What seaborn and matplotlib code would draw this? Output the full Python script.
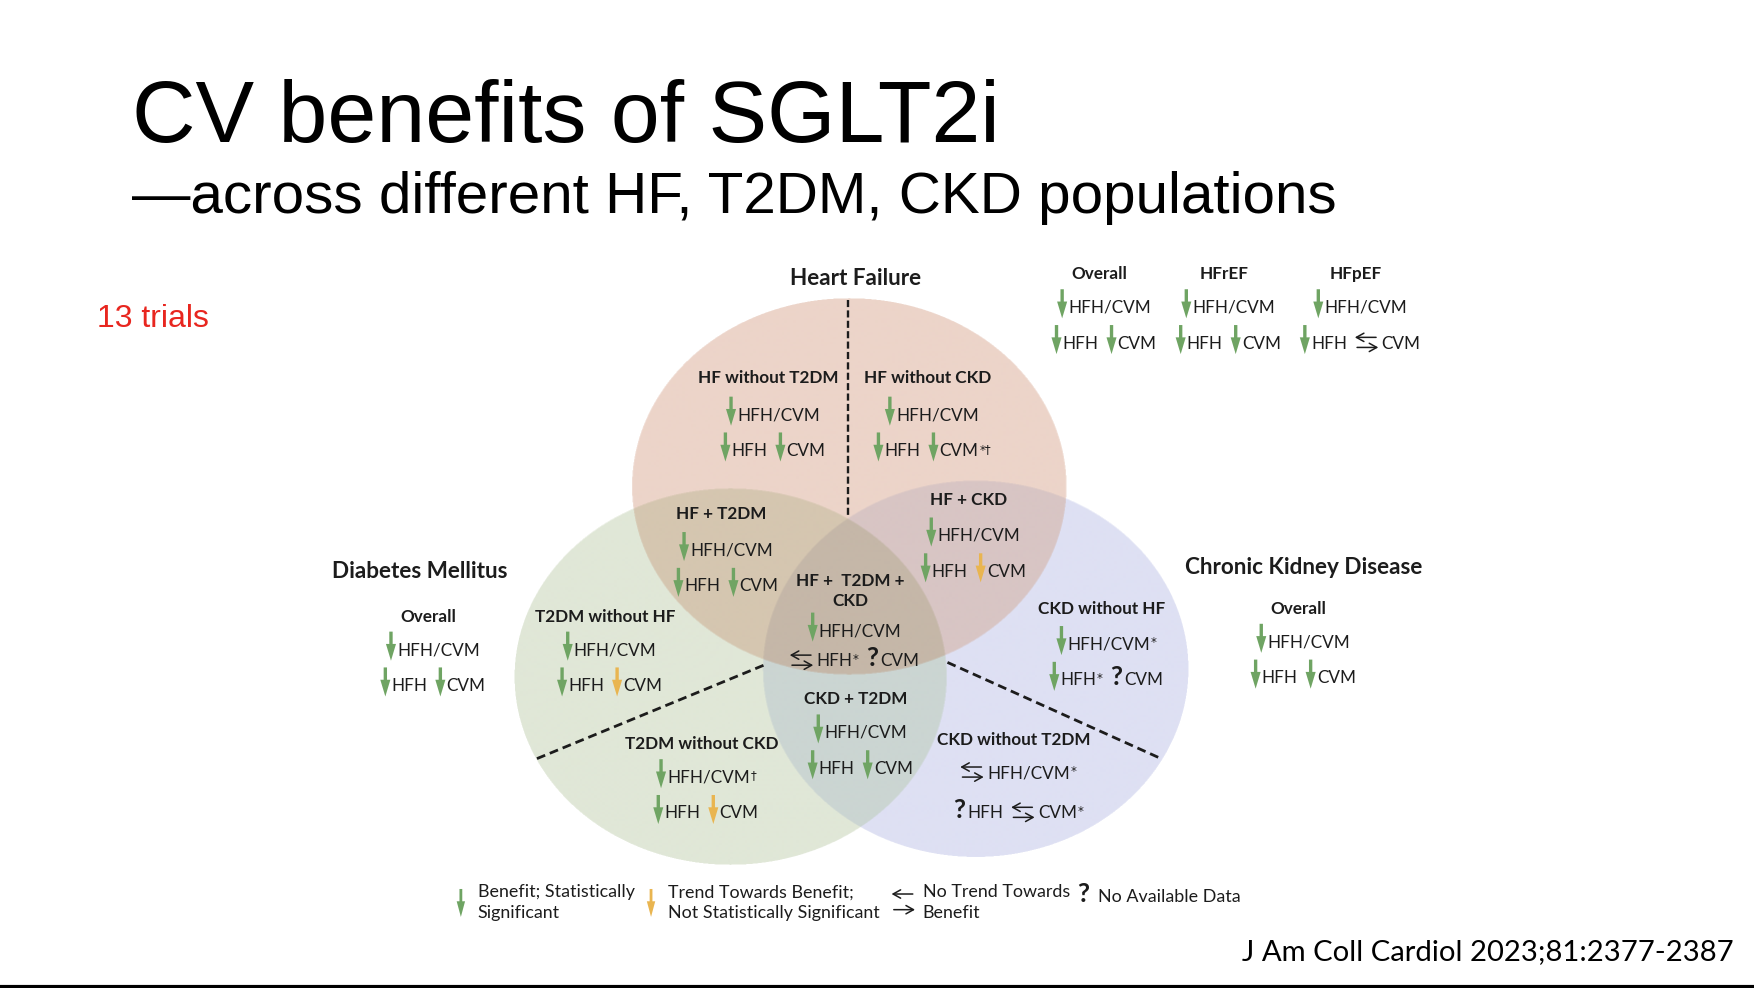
import numpy as np
import seaborn as sns
import matplotlib
matplotlib.use("Agg")
import matplotlib.pyplot as plt
from matplotlib.patches import FancyArrow

# ---------------- data ----------------
title = "CV benefits of SGLT2i"
subtitle = "\u2014across different HF, T2DM, CKD populations"
note = "13 trials"
source = "J Am Coll Cardiol 2023;81:2377-2387"

circle_names = ["Heart Failure", "Diabetes Mellitus", "Chronic Kidney Disease"]

groups = ["HF without T2DM", "HF without CKD", "HF + T2DM", "HF + CKD",
          "HF +  T2DM +\nCKD", "T2DM without HF", "CKD without HF", "CKD + T2DM",
          "T2DM without CKD", "CKD without T2DM",
          "Overall", "Overall", "Overall", "HFrEF", "HFpEF"]

# G = benefit, statistically significant   Y = trend towards benefit
# N = no trend towards benefit             Q = no available data
hfh_cvm      = ["G", "G", "G", "G", "G", "G", "G", "G", "G", "N", "G", "G", "G", "G", "G"]
hfh_cvm_note = ["", "", "", "", "", "", "*", "", "\u2020", "*", "", "", "", "", ""]
hfh          = ["G", "G", "G", "G", "N", "G", "G", "G", "G", "Q", "G", "G", "G", "G", "G"]
hfh_note     = ["", "", "", "", "*", "", "*", "", "", "", "", "", "", "", ""]
cvm          = ["G", "G", "G", "Y", "Q", "Y", "Q", "G", "Y", "N", "G", "G", "G", "G", "N"]
cvm_note     = ["", "*\u2020", "", "", "", "", "", "", "", "*", "", "", "", "", ""]

legend_codes = ["G", "Y", "N", "Q"]
legend_text = ["Benefit; Statistically\nSignificant",
               "Trend Towards Benefit;\nNot Statistically Significant",
               "No Trend Towards\nBenefit",
               "No Available Data"]

# ---------------- layout (reference units, y down) ----------------
W, H = 1568, 883
ellipses = [(759, 435, 194, 168),   # heart failure
            (653, 605, 193, 168),   # diabetes
            (872, 598, 190, 168)]   # CKD
region_rgb = [(255, 255, 255), (236, 212, 201), (224, 231, 215), (213, 198, 176),
              (222, 224, 243), (216, 197, 196), (203, 213, 210), (197, 183, 168)]
name_xy = [(765, 248), (375, 510), (1165, 506)]
group_xy = [(687, 337, 370, 402), (829, 337, 370, 402), (645, 458, 491, 523),
            (866, 446, 478, 510), (760, 518, 563, 590), (541, 550, 580, 612),
            (985, 543, 575, 607), (765, 624, 654, 686), (627, 664, 694, 726),
            (906, 660, 690, 726), (383, 550, 580, 612), (1161, 543, 573, 605),
            (983, 244, 274, 306), (1094, 244, 274, 306), (1212, 244, 274, 306)]
legend_sym_x = [408, 578, 797, 963]
legend_txt_x = [427, 597, 825, 982]

GREEN, GOLD, INK = "#6fa463", "#e9b550", "#1c1c1c"
FS, FS_SUP, FS_NAME = 12.3, 8.5, 16.2
BODY = ["Lato", "DejaVu Sans"]
SUP = ["DejaVu Sans"]

sns.set_theme(style="white")
plt.rcParams["font.family"] = BODY

fig = plt.figure(figsize=(17.54, 9.88), dpi=100)
ax = fig.add_axes([0, 0, 1, 1])
renderer = fig.canvas.get_renderer()
px = 1754 / W

# ---- venn background (multiplied overlaps) ----
x0, x1, y0, y1 = 440, 1090, 250, 790
ss = 2
nx = ss * int((x1 - x0) * px)
ny = ss * int((y1 - y0) * px)
X, Y = np.meshgrid(np.linspace(x0, x1, nx), np.linspace(y0, y1, ny))
code = np.zeros(X.shape, dtype=int)
for i, (cx, cy, rx, ry) in enumerate(ellipses):
    code += (((X - cx) / rx) ** 2 + ((Y - cy) / ry) ** 2 <= 1).astype(int) << i
img = (np.array(region_rgb) / 255.0)[code]
img = img.reshape(ny // ss, ss, nx // ss, ss, 3).mean(axis=(1, 3))
ax.imshow(img, extent=(x0, x1, y1, y0), origin="upper", interpolation="bilinear", zorder=0)
ax.set_xlim(0, W)
ax.set_ylim(H, 0)
ax.set_aspect("auto")
ax.axis("off")

# dashed dividers
ax.plot([758, 758], [268, 462], color=INK, lw=1.7, ls=(0, (3, 1.4)), zorder=1)
ax.plot([480, 684], [678, 594], color=INK, lw=2.0, ls=(0, (3.2, 1.8)), zorder=1)
ax.plot([847, 1038], [592, 678], color=INK, lw=2.0, ls=(0, (3.2, 1.8)), zorder=1)


def width_of(s, **kw):
    t = ax.text(0, 0, s, **kw)
    w = t.get_window_extent(renderer).width / px
    t.remove()
    return w


Q_W = width_of("?", fontsize=19, fontweight="bold") + 2


def symbol(code, x, base, legend=False):
    if code in "GY":
        col = GREEN if code == "G" else GOLD
        if legend:
            ax.add_patch(FancyArrow(x + 4, base - 21, 0, 25, width=2.5, head_width=7.5,
                                    head_length=14, length_includes_head=True, color=col, lw=0))
        else:
            ax.add_patch(FancyArrow(x + 4.5, base - 21, 0, 26, width=3.0, head_width=9,
                                    head_length=15, length_includes_head=True, color=col, lw=0))
        return 10
    if code == "N":
        yc = base - 5.5
        dy = 7 if legend else 4.5
        sty = "->,head_length=0.45,head_width=0.25"
        ax.annotate("", xy=(x, yc - dy), xytext=(x + 19, yc - dy),
                    arrowprops=dict(arrowstyle=sty, lw=1.1, color=INK, shrinkA=0, shrinkB=0))
        ax.annotate("", xy=(x + 21, yc + dy), xytext=(x + 2, yc + dy),
                    arrowprops=dict(arrowstyle=sty, lw=1.1, color=INK, shrinkA=0, shrinkB=0))
        return 24
    ax.text(x, base, "?", fontsize=19, fontweight="bold", color=INK, ha="left", va="baseline")
    return Q_W


def draw_row(cx, yc, items, gap=7):
    base = yc + 5.5
    widths = []
    for c, label, mark in items:
        sw = {"G": 10, "Y": 10, "N": 24}.get(c, Q_W)
        w = sw + width_of(label, fontsize=FS) + (width_of(mark, fontsize=FS_SUP, family=SUP) if mark else 0)
        widths.append(w)
    x = cx - (sum(widths) + gap * (len(items) - 1)) / 2
    for (c, label, mark), w in zip(items, widths):
        sw = symbol(c, x, base)
        ax.text(x + sw, base, label, fontsize=FS, color=INK, ha="left", va="baseline")
        if mark:
            lw_ = width_of(label, fontsize=FS)
            ax.text(x + sw + lw_ + 0.5, base - 3, mark, fontsize=FS_SUP, family=SUP,
                    color=INK, ha="left", va="baseline")
        x += w + gap


for i, name in enumerate(groups):
    cx, ty, r1, r2 = group_xy[i]
    for j, line in enumerate(name.split("\n")):
        ax.text(cx, ty + 18 * j + 5.5, line, fontsize=FS, fontweight="bold", color=INK,
                ha="center", va="baseline")
    draw_row(cx + 4, r1, [(hfh_cvm[i], "HFH/CVM", hfh_cvm_note[i])])
    draw_row(cx + 4, r2, [(hfh[i], "HFH", hfh_note[i]), (cvm[i], "CVM", cvm_note[i])])

for name, (cx, cy) in zip(circle_names, name_xy):
    ax.text(cx, cy + 7, name, fontsize=FS_NAME, fontweight="bold", color=INK,
            ha="center", va="baseline")

# legend
for c, txt, sx, tx in zip(legend_codes, legend_text, legend_sym_x, legend_txt_x):
    lines = txt.split("\n")
    base = 806 + 5.5 if len(lines) == 2 else 801 + 5.5
    symbol(c, sx, base + (4 if c in "GY" else 0), legend=True)
    for j, line in enumerate(lines):
        yb = (797 + 18 * j + 5) if len(lines) == 2 else 806
        ax.text(tx, yb, line, fontsize=12.9, color=INK, ha="left", va="baseline")

# slide text
SLIDE = ["Liberation Sans", "DejaVu Sans"]
ax.text(118, 127, title, fontsize=63.3, family=SLIDE, color="black", ha="left", va="baseline")
ax.text(118, 190, subtitle, fontsize=42, family=SLIDE, color="black", ha="left", va="baseline")
ax.text(87, 292, note, fontsize=23, family=SLIDE, color="#e8261f", ha="left", va="baseline")
ax.text(1550, 858, source, fontsize=21.1, family=BODY, color="black", ha="right", va="baseline")
ax.plot([0, W], [882, 882], color="black", lw=3, solid_capstyle="butt")

fig.savefig("out.png", dpi=100)
